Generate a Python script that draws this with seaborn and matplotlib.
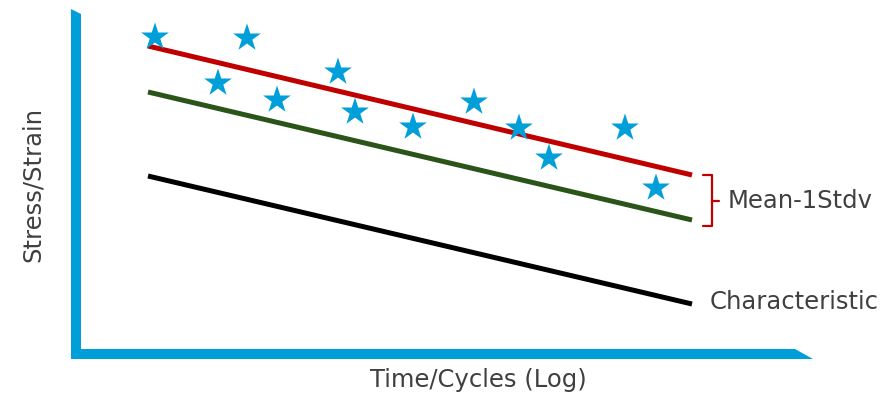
import numpy as np
import pandas as pd
import seaborn as sns
import matplotlib.pyplot as plt
from matplotlib.patches import Polygon

# test points (log cycles, stress)
star_x = [0.79, 1.71, 1.42, 2.01, 2.62, 2.79, 3.37, 3.98, 4.43, 4.73, 5.49, 5.80]
star_y = [3.17, 3.16, 2.71, 2.54, 2.82, 2.42, 2.27, 2.52, 2.26, 1.96, 2.26, 1.66]

# fitted lines, start and end
line_x = [0.72, 6.16]
mean_y = [3.08, 1.79]
stdv_y = [2.62, 1.34]
char_y = [1.78, 0.50]

label_mean = "Mean-1Stdv"
label_char = "Characteristic"
xlabel = "Time/Cycles (Log)"
ylabel = "Stress/Strain"

sns.set_style("white")
plt.rcParams['font.family'] = ['DejaVu Sans']

fig = plt.figure(figsize=(8.84, 3.94), dpi=100)
ax = fig.add_axes([0, 0, 1, 1])
ax.set_xlim(-0.76, 8.08)
ax.set_ylim(-0.40, 3.54)
ax.axis('off')

blue = '#009FDA'
txt = '#404040'

# L shaped axes with slanted ends
ax.add_patch(Polygon([(-0.05, -0.05), (-0.05, 3.45), (0.05, 3.40), (0.05, -0.05)],
                     closed=True, color=blue, lw=0))
ax.add_patch(Polygon([(-0.05, -0.05), (7.37, -0.05), (7.19, 0.05), (-0.05, 0.05)],
                     closed=True, color=blue, lw=0))

lines = pd.DataFrame({'x': line_x * 3,
                      'y': mean_y + stdv_y + char_y,
                      'kind': ['mean'] * 2 + ['stdv'] * 2 + ['char'] * 2})
sns.lineplot(data=lines, x='x', y='y', hue='kind',
             palette={'mean': '#C00000', 'stdv': '#2A5418', 'char': '#000000'},
             lw=3.6, legend=False, ax=ax, solid_capstyle='butt')

sns.scatterplot(x=star_x, y=star_y, marker='*', s=440, color=blue,
                edgecolor='none', ax=ax, zorder=5)

# bracket for the scatter band
ax.plot([6.27, 6.36, 6.36, 6.27], [mean_y[1], mean_y[1], stdv_y[1] - 0.06, stdv_y[1] - 0.06],
        color='#C00000', lw=1.6, solid_joinstyle='round')
ax.plot([6.36, 6.43], [1.53, 1.53], color='#C00000', lw=1.6)

fs = 17.5
ax.text(6.52, 1.53, label_mean, color=txt, fontsize=fs, va='center', ha='left')
ax.text(6.34, 0.52, label_char, color=txt, fontsize=fs, va='center', ha='left')
ax.text(-0.43, 1.69, ylabel, color=txt, fontsize=fs, va='center', ha='center', rotation=90)
ax.text(4.02, -0.26, xlabel, color=txt, fontsize=fs, va='center', ha='center')

fig.savefig('out.png', dpi=100)
